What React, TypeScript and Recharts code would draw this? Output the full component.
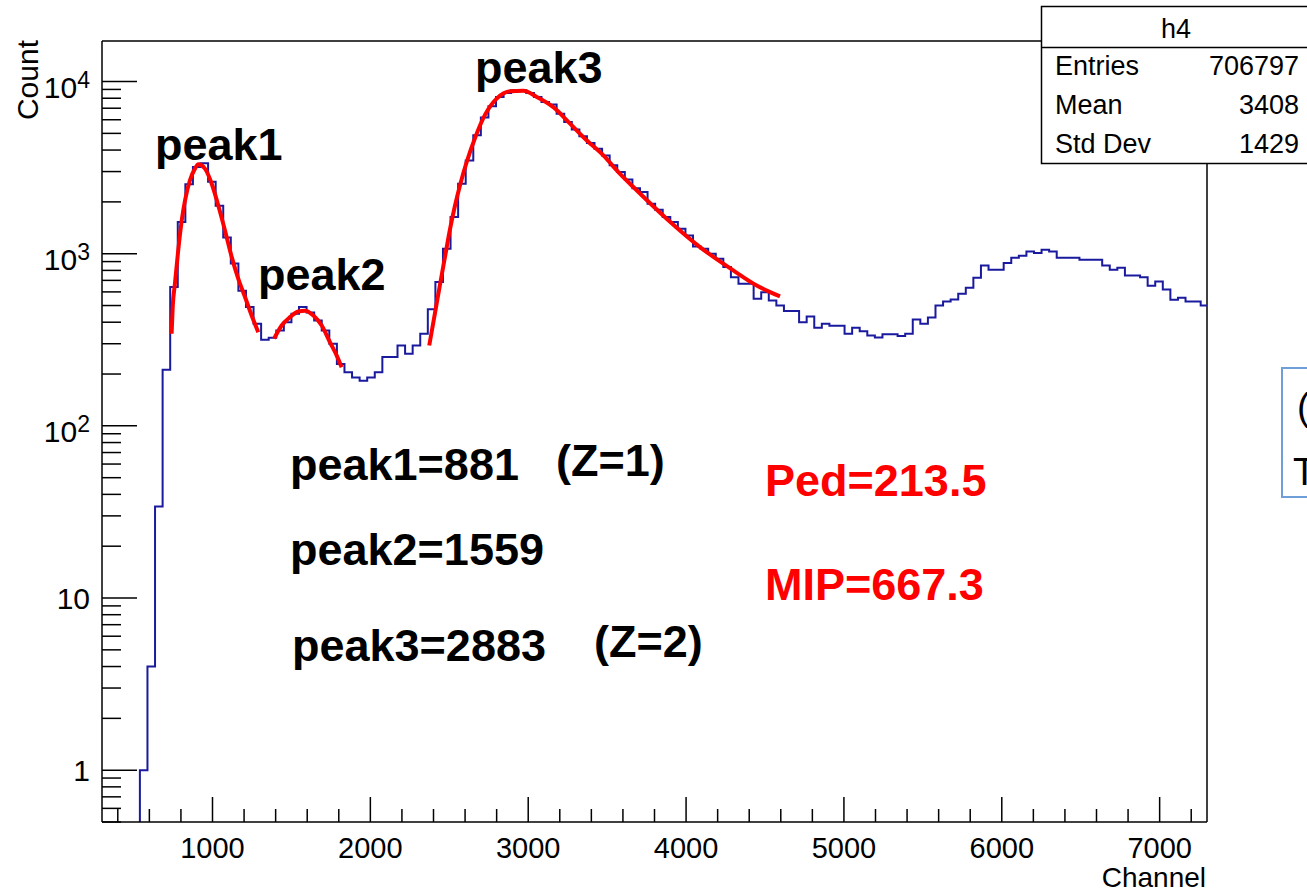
import React from "react";
import { LineChart, Line, XAxis, YAxis, ReferenceLine } from "recharts";

// histogram h4: fixed-width bins, counts
const BIN_START = 540;
const BIN_WIDTH = 48;
const COUNTS = [
  1, 4, 34, 212, 640, 1527, 2530, 3190, 3350, 2620,
  1900, 1240, 877, 610, 490, 392, 316, 325, 358, 400,
  448, 490, 455, 409, 358, 300, 229, 205, 191, 183,
  191, 205, 251, 251, 293, 262, 293, 343, 475, 684,
  1070, 1633, 2553, 3480, 4875, 6180, 7180, 8140, 8590, 8910,
  8910, 8590, 8140, 7610, 7360, 6510, 5820, 5260, 4810, 4400,
  4076, 3725, 3260, 2980, 2700, 2400, 2280, 1950, 1800, 1633,
  1528, 1397, 1277, 1100, 1070, 1000, 935, 836, 731, 670,
  670, 547, 598, 535, 500, 464, 464, 400, 432, 371,
  392, 381, 381, 343, 371, 355, 335, 326, 341, 341,
  333, 343, 415, 392, 426, 500, 528, 542, 585, 634,
  725, 855, 807, 807, 882, 947, 974, 1031, 1008, 1055,
  1031, 947, 947, 947, 923, 923, 923, 855, 807, 829,
  748, 748, 731, 652, 690, 620, 540, 555, 528, 528,
  500,
];

// fitted curves (red)
const FIT1_X = [741, 748, 762, 783, 805, 826, 857, 889, 910, 952, 995, 1037, 1079, 1122, 1163, 1206, 1248, 1290];
const FIT1_Y = [343, 490, 670, 1050, 1560, 2040, 2670, 3120, 3305, 3120, 2550, 1900, 1366, 955, 716, 560, 438, 350];

const FIT2_X = [1390, 1438, 1491, 1544, 1586, 1639, 1692, 1744, 1787, 1818];
const FIT2_Y = [321, 383, 428, 462, 467, 438, 383, 306, 256, 219];

const FIT3_X = [2373, 2409, 2441, 2473, 2504, 2536, 2568, 2610, 2663, 2726, 2800, 2885, 2969, 3054, 3159, 3265, 3370, 3476, 3571, 3666, 3877, 4088, 4299, 4447, 4595];
const FIT3_Y = [293, 450, 660, 960, 1380, 1900, 2500, 3400, 4700, 6400, 7960, 8790, 8830, 8140, 7100, 5700, 4560, 3725, 2980, 2440, 1597, 1093, 800, 654, 565];

const X_MIN = 300;
const X_MAX = 7300;
const Y_MIN = 0.5;
const Y_MAX = 17200;

const X_MAJOR = [1000, 2000, 3000, 4000, 5000, 6000, 7000];
const X_TICKS: number[] = [];
for (let v = 400; v <= 7200; v += 200) X_TICKS.push(v);

const Y_DECADES = [0.1, 1, 10, 100, 1000, 10000];
const Y_TICKS: number[] = [];
Y_DECADES.forEach((d) => {
  for (let m = 1; m <= 9; m++) {
    const v = +(m * d).toPrecision(3);
    if (v >= Y_MIN && v <= Y_MAX) Y_TICKS.push(v);
  }
});

const STATS = [
  { name: "Entries", value: "706797" },
  { name: "Mean", value: "3408" },
  { name: "Std Dev", value: "1429" },
];

const FLOOR = 0.2; // empty bins sit below the frame
const histData = [
  { x: BIN_START - BIN_WIDTH, y: FLOOR },
  ...COUNTS.map((c, i) => ({ x: BIN_START + i * BIN_WIDTH, y: c > 0 ? c : FLOOR })),
  { x: BIN_START + COUNTS.length * BIN_WIDTH, y: COUNTS[COUNTS.length - 1] },
];
const toPts = (xs: number[], ys: number[]) => xs.map((x, i) => ({ x, y: ys[i] }));
const fit1 = toPts(FIT1_X, FIT1_Y);
const fit2 = toPts(FIT2_X, FIT2_Y);
const fit3 = toPts(FIT3_X, FIT3_Y);

const FONT = "'Liberation Sans', Arial, Helvetica, sans-serif";
const BLUE = "#1a1a9e";
const RED = "#ff0000";

const XTick = (props: any) => {
  const { x, y, payload } = props;
  const v = payload.value;
  const major = X_MAJOR.includes(v);
  return (
    <g>
      <line x1={x} x2={x} y1={y} y2={y - (major ? 25 : 13)} stroke="#000" strokeWidth={1.5} />
      {major && (
        <text x={x} y={y + 36} textAnchor="middle" fontSize={29} fontFamily={FONT} fill="#000">
          {v}
        </text>
      )}
    </g>
  );
};

const YTick = (props: any) => {
  const { x, y, payload } = props;
  const v = payload.value;
  const lg = Math.log10(v);
  const e = Math.round(lg);
  const major = Math.abs(lg - e) < 1e-6;
  let label: React.ReactNode = null;
  if (major && e >= 0) {
    if (e <= 1) {
      label = (
        <text x={x - 12} y={y + 10.5} textAnchor="end" fontSize={30} fontFamily={FONT} fill="#000">
          {String(Math.round(v))}
        </text>
      );
    } else {
      label = (
        <text x={x - 12} y={y + 16} textAnchor="end" fontSize={30} fontFamily={FONT} fill="#000">
          <tspan>10</tspan>
          <tspan dy={-10} fontSize={23}>{e}</tspan>
        </text>
      );
    }
  }
  return (
    <g>
      <line x1={x} x2={x + (major ? 35 : 19)} y1={y} y2={y} stroke="#000" strokeWidth={1.5} />
      {label}
    </g>
  );
};

export default function App() {
  return (
    <div style={{ position: "absolute", left: 0, top: 0, width: 1307, height: 895, background: "#fff", fontFamily: FONT, overflow: "hidden" }}>
      <LineChart width={1307} height={895} margin={{ top: 41, right: 100, bottom: 0, left: 0 }}>
        <XAxis
          type="number"
          dataKey="x"
          domain={[X_MIN, X_MAX]}
          allowDataOverflow
          ticks={X_TICKS}
          interval={0}
          tick={(p: any) => <XTick {...p} />}
          tickLine={false}
          tickSize={0}
          tickMargin={0}
          height={73}
          axisLine={{ stroke: "#000", strokeWidth: 1.5 }}
        />
        <YAxis
          type="number"
          scale="log"
          domain={[Y_MIN, Y_MAX]}
          allowDataOverflow
          ticks={Y_TICKS}
          interval={0}
          tick={(p: any) => <YTick {...p} />}
          tickLine={false}
          tickSize={0}
          tickMargin={0}
          width={102}
          axisLine={{ stroke: "#000", strokeWidth: 1.5 }}
        />
        <ReferenceLine y={Y_MAX} stroke="#000" strokeWidth={1.5} />
        <ReferenceLine x={X_MAX} stroke="#000" strokeWidth={1.5} />
        <Line data={histData} dataKey="y" type="stepAfter" stroke={BLUE} strokeWidth={2} dot={false} isAnimationActive={false} />
        <Line data={fit1} dataKey="y" type="monotone" stroke={RED} strokeWidth={4} dot={false} isAnimationActive={false} />
        <Line data={fit2} dataKey="y" type="monotone" stroke={RED} strokeWidth={4} dot={false} isAnimationActive={false} />
        <Line data={fit3} dataKey="y" type="monotone" stroke={RED} strokeWidth={4} dot={false} isAnimationActive={false} />
      </LineChart>

      <svg width={1307} height={895} style={{ position: "absolute", left: 0, top: 0, pointerEvents: "none" }} fontFamily={FONT}>
        {/* axis titles */}
        <text transform="translate(38,40) rotate(-90)" textAnchor="end" fontSize={30} fill="#000">Count</text>
        <text x={1206} y={887} textAnchor="end" fontSize={28} fill="#000">Channel</text>

        {/* stats box */}
        <rect x={1041.5} y={6.5} width={300} height={157} fill="#fff" stroke="#000" strokeWidth={1.5} />
        <line x1={1041.5} x2={1341} y1={47.5} y2={47.5} stroke="#000" strokeWidth={1.5} />
        <text x={1176} y={38} textAnchor="middle" fontSize={27} fill="#000">h4</text>
        {STATS.map((s, i) => (
          <g key={s.name}>
            <text x={1055} y={75 + i * 39} fontSize={27} fill="#000">{s.name}</text>
            <text x={1299} y={75 + i * 39} textAnchor="end" fontSize={27} fill="#000">{s.value}</text>
          </g>
        ))}

        {/* annotations */}
        <g fontWeight="bold" fontSize={45} fill="#000">
          <text x={155} y={160}>peak1</text>
          <text x={258} y={290}>peak2</text>
          <text x={475} y={83}>peak3</text>
          <text x={290} y={480}>peak1=881</text>
          <text x={556} y={476}>(Z=1)</text>
          <text x={290} y={565}>peak2=1559</text>
          <text x={292} y={661}>peak3=2883</text>
          <text x={594} y={657}>(Z=2)</text>
        </g>
        <g fontWeight="bold" fontSize={45} fill={RED}>
          <text x={765} y={496}>Ped=213.5</text>
          <text x={765} y={600}>MIP=667.3</text>
        </g>

        {/* text box from the slide, cut by the right edge as in the original */}
        <rect x={1282} y={368} width={60} height={129} fill="#fff" stroke="#6f9fd8" strokeWidth={2} />
        <text x={1297} y={420} fontSize={38} fill="#000">(</text>
        <text x={1293} y={485} fontSize={38} fill="#000">T</text>
      </svg>
    </div>
  );
}
